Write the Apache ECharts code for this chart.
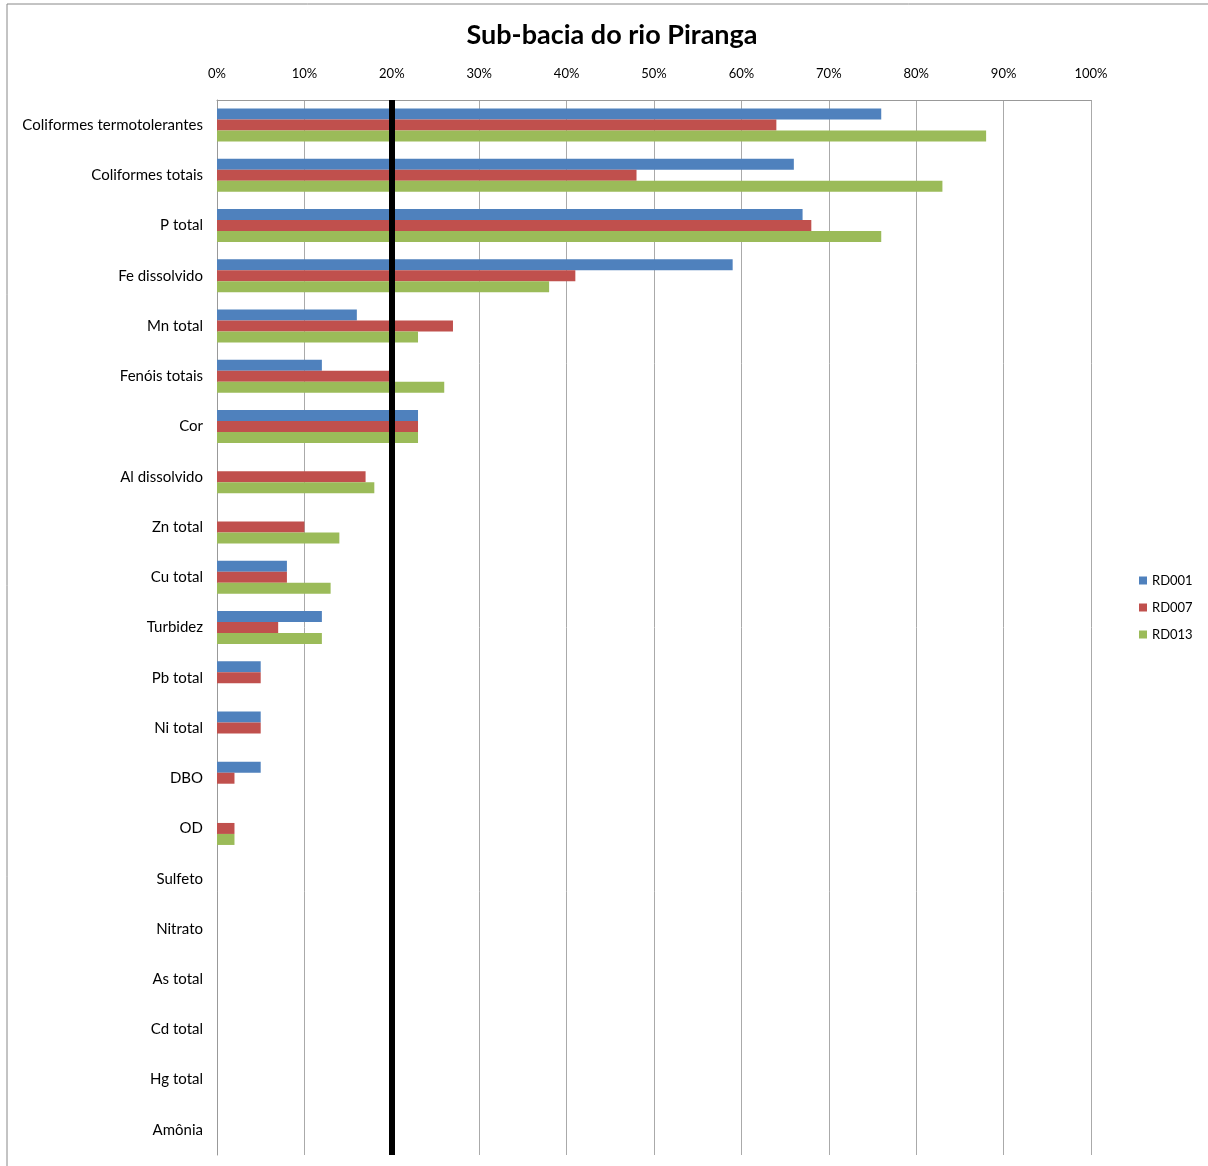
<!DOCTYPE html>
<html><head><meta charset="utf-8">
<script src="https://cdn.jsdelivr.net/npm/echarts@6/dist/echarts.min.js"></script>
<style>html,body{margin:0;padding:0;background:#fff}#c{width:1208px;height:1166px}</style>
</head><body><div id="c"></div>
<script>
const categories = ["Coliformes termotolerantes","Coliformes totais","P total","Fe dissolvido","Mn total","Fenóis totais","Cor","Al dissolvido","Zn total","Cu total","Turbidez","Pb total","Ni total","DBO","OD","Sulfeto","Nitrato","As total","Cd total","Hg total","Amônia"];
const rd001 = [76,66,67,59,16,12,23,0,0,8,12,5,5,5,0,0,0,0,0,0,0];
const rd007 = [64,48,68,41,27,20,23,17,10,8,7,5,5,2,2,0,0,0,0,0,0];
const rd013 = [88,83,76,38,23,26,23,18,14,13,12,0,0,0,2,0,0,0,0,0,0];
const xTicks = [0,10,20,30,40,50,60,70,80,90,100];
const limit = 20;

const chart = echarts.init(document.getElementById('c'));
const font = 'Lato, "Noto Sans", sans-serif';
chart.setOption({
  animation:false,
  textStyle:{fontFamily:font},
  title:{text:'Sub-bacia do rio Piranga',left:607,top:17,textAlign:'center',
    textStyle:{fontSize:27,fontWeight:'bold',color:'#000',fontFamily:font}},
  graphic:[{type:'rect',shape:{x:7,y:4,width:1210,height:1170},style:{fill:'none',stroke:'#888',lineWidth:1},z:-1}],
  legend:{orient:'vertical',left:1134,top:569,itemWidth:8,itemHeight:8,itemGap:14,
    icon:'rect',textStyle:{fontSize:13,color:'#000',fontFamily:font},
    data:['RD001','RD007','RD013']},
  grid:{left:217,right:117,top:100,bottom:11,containLabel:false},
  xAxis:{type:'value',position:'top',min:0,max:100,interval:10,
    axisLine:{show:true,lineStyle:{color:'#999'}},axisTick:{show:false},
    axisLabel:{formatter:v=>xTicks.includes(v)?v+'%':'',fontSize:13,color:'#000',margin:20},
    splitLine:{show:true,lineStyle:{color:'#aaa',width:1}}},
  yAxis:{type:'category',data:categories,inverse:true,
    axisLine:{show:true,lineStyle:{color:'#999'}},axisTick:{show:false},
    axisLabel:{fontSize:15,color:'#000',margin:14}},
  series:[
    {name:'RD001',type:'bar',data:rd001,barWidth:11,barGap:'0%',itemStyle:{color:'#4F81BD'},
      markLine:{silent:true,symbol:['none','none'],label:{show:false},
        lineStyle:{color:'#000',width:6,type:'solid'},data:[{xAxis:limit}],z:10}},
    {name:'RD007',type:'bar',data:rd007,barWidth:11,barGap:'0%',itemStyle:{color:'#C0504D'}},
    {name:'RD013',type:'bar',data:rd013,barWidth:11,barGap:'0%',itemStyle:{color:'#9BBB59'}}
  ]
});
</script></body></html>
